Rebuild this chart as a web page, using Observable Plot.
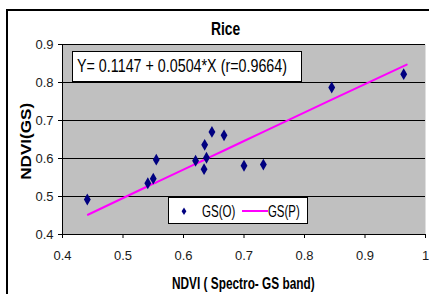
<!DOCTYPE html>
<html>
<head>
<meta charset="utf-8">
<script src="https://cdn.jsdelivr.net/npm/d3@7"></script>
<script src="https://cdn.jsdelivr.net/npm/@observablehq/plot@0.6"></script>
<style>
  html, body { margin: 0; padding: 0; background: #fff; overflow: hidden; }
  #wrap { position: relative; width: 429px; height: 294px; overflow: hidden; font-family: "Liberation Sans", Arial, sans-serif; color: #000; }
  #frame { position: absolute; left: 6px; top: 9px; width: 600px; height: 600px; border: 2px solid #000; box-sizing: border-box; }
  #chart { position: absolute; left: 0; top: 0; }
  .abs { position: absolute; white-space: nowrap; }
  .box { position: absolute; background: #fff; border: 1px solid #000; box-sizing: border-box; }
</style>
</head>
<body>
<div id="wrap">
  <div id="frame"></div>
  <div id="chart"></div>
</div>
<script>
const title = "Rice";
const xLabel = "NDVI ( Spectro- GS band)";
const yLabel = "NDVI(GS)";
const equation = "Y= 0.1147 + 0.0504*X (r=0.9664)";
const seriesNames = ["GS(O)", "GS(P)"];

const xObs = [0.441, 0.541, 0.550, 0.555, 0.620, 0.634, 0.635, 0.638, 0.647, 0.667, 0.700, 0.732, 0.845, 0.964];
const yObs = [0.492, 0.535, 0.547, 0.597, 0.594, 0.572, 0.636, 0.602, 0.670, 0.661, 0.581, 0.584, 0.787, 0.822];
const xPred = [0.442, 0.541, 0.550, 0.555, 0.620, 0.634, 0.635, 0.638, 0.647, 0.667, 0.700, 0.732, 0.845, 0.969];
const yPred = [0.452, 0.527, 0.534, 0.537, 0.586, 0.596, 0.597, 0.599, 0.606, 0.621, 0.646, 0.670, 0.755, 0.847];

const xTicks = [0.4, 0.5, 0.6, 0.7, 0.8, 0.9, 1];
const xTickLabels = ["0.4", "0.5", "0.6", "0.7", "0.8", "0.9", "1"];
const yTicks = [0.4, 0.5, 0.6, 0.7, 0.8, 0.9];
const yTickLabels = ["0.4", "0.5", "0.6", "0.7", "0.8", "0.9"];
const yGrid = [0.5, 0.6, 0.7, 0.8, 0.9];

const obs = xObs.map((x, i) => ({x, y: yObs[i]}));
const pred = xPred.map((x, i) => ({x, y: yPred[i]}));

const chart = Plot.plot({
  width: 429,
  height: 294,
  marginLeft: 62,
  marginRight: 4,
  marginTop: 44,
  marginBottom: 60,
  style: {background: "transparent", fontFamily: "Liberation Sans, Arial, sans-serif", fontSize: "13px", color: "#1a1a1a"},
  x: {domain: [0.4, 1], range: [62, 425]},
  y: {domain: [0.4, 0.9]},
  marks: [
    Plot.frame({fill: "#c0c0c0", stroke: null}),
    Plot.ruleY(yGrid, {stroke: "#000", strokeWidth: 1}),
    Plot.ruleY([0.4], {stroke: "#000", strokeWidth: 1}),
    Plot.ruleX([0.4], {stroke: "#000", strokeWidth: 1}),
    Plot.axisX({ticks: xTicks, tickFormat: (d, i) => xTickLabels[i], tickSize: 4, tickPadding: 12, label: null, fontSize: 13, stroke: "#000"}),
    Plot.axisY({ticks: yTicks, tickFormat: (d, i) => yTickLabels[i], tickSize: 4, tickPadding: 5, label: null, fontSize: 13, stroke: "#000"}),
    Plot.line(pred, {x: "x", y: "y", stroke: "#ff00ff", strokeWidth: 2}),
    Plot.dot(obs, {x: "x", y: "y", symbol: "diamond", r: 3.6, fill: "#000080", stroke: null})
  ]
});
document.getElementById("chart").appendChild(chart);

const wrap = document.getElementById("wrap");

function box(left, top, width, height) {
  const d = document.createElement("div");
  d.className = "box";
  Object.assign(d.style, {left: left + "px", top: top + "px", width: width + "px", height: height + "px"});
  wrap.appendChild(d);
  return d;
}

// text placed by its left edge, target width and baseline; squeezed horizontally like the reference
function fitText(text, {left, width, baseline, size, bold = false, rotate = false, cx, cy}) {
  const d = document.createElement("div");
  d.className = "abs";
  d.style.fontSize = size + "px";
  d.style.lineHeight = size + "px";
  d.style.fontWeight = bold ? "bold" : "normal";
  const s = document.createElement("span");
  s.textContent = text;
  s.style.display = "inline-block";
  s.style.transformOrigin = "0 0";
  d.appendChild(s);
  wrap.appendChild(d);
  const w = s.getBoundingClientRect().width;
  s.style.transform = `scaleX(${width / w})`;
  if (!rotate) {
    d.style.left = left + "px";
    d.style.top = (baseline - 0.8465 * size) + "px";
  } else {
    const oy = 0.488 * size;
    d.style.left = (cx - width / 2) + "px";
    d.style.top = (cy - oy) + "px";
    d.style.width = width + "px";
    d.style.transformOrigin = `${width / 2}px ${oy}px`;
    d.style.transform = "rotate(-90deg)";
  }
  return d;
}

fitText(title, {left: 210.7, width: 29.3, baseline: 35, size: 18, bold: true});
fitText(xLabel, {left: 172.3, width: 142.7, baseline: 290, size: 16, bold: true});
fitText(yLabel, {width: 77, size: 15, bold: true, rotate: true, cx: 25.5, cy: 141.5});

box(72, 50.7, 229.7, 31.3);
fitText(equation, {left: 77, width: 210, baseline: 72.7, size: 18.5});

box(168, 197, 140, 27);
const sym = document.createElementNS("http://www.w3.org/2000/svg", "svg");
sym.setAttribute("width", "12");
sym.setAttribute("height", "10");
sym.style.position = "absolute";
sym.style.left = "178px";
sym.style.top = "206px";
sym.innerHTML = `<path d="M6,1.5 L8.4,5.3 L6,9.1 L3.6,5.3 Z" fill="#000080"/><line x1="0" y1="0" x2="0" y2="0"/>`;
wrap.appendChild(sym);
const ln = document.createElementNS("http://www.w3.org/2000/svg", "svg");
ln.setAttribute("width", "26");
ln.setAttribute("height", "4");
ln.style.position = "absolute";
ln.style.left = "242px";
ln.style.top = "209px";
ln.innerHTML = `<line x1="0" y1="2" x2="26" y2="2" stroke="#ff00ff" stroke-width="2"/>`;
wrap.appendChild(ln);
fitText(seriesNames[0], {left: 202.3, width: 33.4, baseline: 217, size: 16.3});
fitText(seriesNames[1], {left: 268.3, width: 31.7, baseline: 217, size: 16.3});
</script>
</body>
</html>
